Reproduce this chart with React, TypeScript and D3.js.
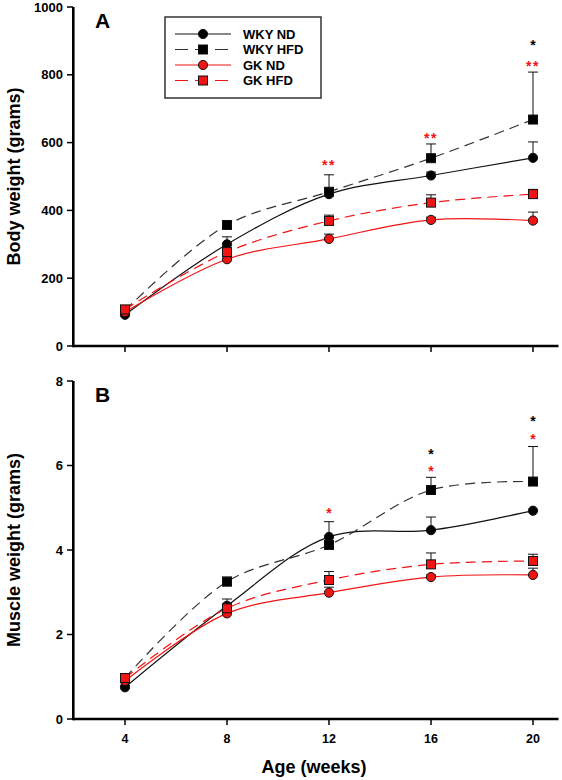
import React from "react";
import * as d3 from "d3";

// ---- Data ----
const weeks = [4, 8, 12, 16, 20];
const seriesNames = ["WKY ND", "WKY HFD", "GK ND", "GK HFD"];

// Panel A: Body weight (grams)
const bodyWkyNd = [92, 300, 448, 503, 555];
const bodyWkyHfd = [105, 357, 455, 554, 668];
const bodyGkNd = [100, 256, 316, 372, 370];
const bodyGkHfd = [108, 277, 369, 423, 448];
const bodyErrWkyNd = [5, 22, 10, 10, 47];
const bodyErrWkyHfd = [5, 12, 50, 42, 140];
const bodyErrGkNd = [4, 8, 14, 8, 25];
const bodyErrGkHfd = [5, 10, 17, 23, 14];
const bodyTicks = [0, 200, 400, 600, 800, 1000];
// significance marks: [week, value, text, color]
const bodyStars: [number, number, string, string][] = [
  [12, 543, "**", "red"],
  [16, 622, "**", "red"],
  [20, 896, "*", "black"],
  [20, 836, "**", "red"],
];

// Panel B: Muscle weight (grams)
const muscleWkyNd = [0.75, 2.68, 4.31, 4.47, 4.93];
const muscleWkyHfd = [0.97, 3.25, 4.12, 5.42, 5.62];
const muscleGkNd = [0.9, 2.5, 2.99, 3.36, 3.41];
const muscleGkHfd = [0.97, 2.62, 3.29, 3.66, 3.74];
const muscleErrWkyNd = [0.05, 0.16, 0.36, 0.31, 0];
const muscleErrWkyHfd = [0.05, 0.11, 0.1, 0.3, 0.83];
const muscleErrGkNd = [0.05, 0.05, 0.13, 0.05, 0.16];
const muscleErrGkHfd = [0.05, 0.06, 0.2, 0.27, 0.16];
const muscleTicks = [0, 2, 4, 6, 8];
const muscleStars: [number, number, string, string][] = [
  [12, 4.95, "*", "red"],
  [16, 6.35, "*", "black"],
  [16, 5.94, "*", "red"],
  [20, 7.13, "*", "black"],
  [20, 6.69, "*", "red"],
];

const FONT = "'Liberation Sans', Arial, Helvetica, sans-serif";
const RED = "#f01414";

const styles = [
  { color: "#111", dash: null as string | null, marker: "circle", fill: "#000" },
  { color: "#333", dash: "10,6", marker: "square", fill: "#000" },
  { color: RED, dash: null, marker: "circle", fill: RED },
  { color: RED, dash: "10,6", marker: "square", fill: RED },
];

const x = d3.scaleLinear().domain([2, 21]).range([74, 558.5]);

function Marker({ kind, cx, cy, fill }: { kind: string; cx: number; cy: number; fill: string }) {
  if (kind === "circle")
    return <circle cx={cx} cy={cy} r={4.6} fill={fill} stroke="#111" strokeWidth={1} />;
  return <rect x={cx - 4.5} y={cy - 4.5} width={9} height={9} fill={fill} stroke="#111" strokeWidth={1} />;
}

function Panel({
  label,
  yDomain,
  yRange,
  ticks,
  values,
  errs,
  stars,
  title,
  showXLabels,
}: {
  label: string;
  yDomain: [number, number];
  yRange: [number, number];
  ticks: number[];
  values: number[][];
  errs: number[][];
  stars: [number, number, string, string][];
  title: string;
  showXLabels: boolean;
}) {
  const y = d3.scaleLinear().domain(yDomain).range(yRange);
  const line = d3
    .line<number>()
    .x((_, i) => x(weeks[i]))
    .y((v) => y(v))
    .curve(d3.curveCatmullRom.alpha(0.5));
  const x0 = x.range()[0] - 1;
  const x1 = x.range()[1];
  const yb = yRange[0];
  const yt = yRange[1];
  const mid = (yb + yt) / 2;
  return (
    <g>
      {/* curves */}
      {values.map((vals, s) => (
        <path
          key={"l" + s}
          d={line(vals) || ""}
          fill="none"
          stroke={styles[s].color}
          strokeWidth={1.2}
          strokeDasharray={styles[s].dash || undefined}
        />
      ))}
      {/* error bars */}
      {values.map((vals, s) =>
        vals.map((v, i) => {
          const e = errs[s][i];
          if (!e) return null;
          const cx = x(weeks[i]);
          return (
            <g key={"e" + s + "-" + i} stroke="#111" strokeWidth={1}>
              <line x1={cx} x2={cx} y1={y(v)} y2={y(v + e)} />
              <line x1={cx - 5} x2={cx + 5} y1={y(v + e)} y2={y(v + e)} />
            </g>
          );
        })
      )}
      {/* markers */}
      {values.map((vals, s) =>
        vals.map((v, i) => (
          <Marker key={"m" + s + "-" + i} kind={styles[s].marker} cx={x(weeks[i])} cy={y(v)} fill={styles[s].fill} />
        ))
      )}
      {/* significance stars */}
      {stars.map(([w, v, t, c], i) => (
        <text
          key={"s" + i}
          x={x(w)}
          y={y(v) + 8}
          textAnchor="middle"
          fontFamily={FONT}
          fontWeight="bold"
          fontSize={14}
          fill={c === "red" ? RED : "#000"}
          letterSpacing={t.length > 1 ? 1.5 : 0}
        >
          {t}
        </text>
      ))}
      {/* axes */}
      <line x1={x0} x2={x1} y1={yb} y2={yb} stroke="#000" strokeWidth={2.6} />
      <line x1={x0 + 0.3} x2={x0 + 0.3} y1={yt} y2={yb + 1.3} stroke="#000" strokeWidth={2.6} />
      {ticks.map((t) => (
        <g key={"yt" + t}>
          <line x1={x0 - 6} x2={x0} y1={y(t)} y2={y(t)} stroke="#000" strokeWidth={1.5} />
          <text
            x={x0 - 10}
            y={y(t)}
            dy="0.36em"
            textAnchor="end"
            fontFamily={FONT}
            fontWeight="bold"
            fontSize={13}
            fill="#000"
          >
            {t}
          </text>
        </g>
      ))}
      {weeks.map((w) => (
        <g key={"xt" + w}>
          <line x1={x(w)} x2={x(w)} y1={yb} y2={yb + 6} stroke="#000" strokeWidth={1.5} />
          {showXLabels && (
            <text
              x={x(w)}
              y={yb + 24}
              textAnchor="middle"
              fontFamily={FONT}
              fontWeight="bold"
              fontSize={12.5}
              fill="#000"
            >
              {w}
            </text>
          )}
        </g>
      ))}
      <text
        transform={`translate(14,${mid}) rotate(-90)`}
        textAnchor="middle"
        dominantBaseline="central"
        fontFamily={FONT}
        fontWeight="bold"
        fontSize={18}
        fill="#000"
      >
        {title}
      </text>
      <text x={95} y={yt + 21} fontFamily={FONT} fontWeight="bold" fontSize={21} fill="#000">
        {label}
      </text>
    </g>
  );
}

function Legend() {
  const rows = [34, 49.5, 65, 80.5];
  return (
    <g>
      <rect x={165} y={17} width={156} height={81} fill="#fff" stroke="#333" strokeWidth={1.5} />
      {seriesNames.map((n, i) => (
        <g key={n}>
          <line
            x1={175}
            x2={231}
            y1={rows[i]}
            y2={rows[i]}
            stroke={styles[i].color}
            strokeWidth={1.2}
            strokeDasharray={styles[i].dash ? "13,7" : undefined}
          />
          <Marker kind={styles[i].marker} cx={203} cy={rows[i]} fill={styles[i].fill} />
          <text
            x={243}
            y={rows[i]}
            dy="0.36em"
            fontFamily={FONT}
            fontWeight="bold"
            fontSize={13}
            fill="#000"
          >
            {n}
          </text>
        </g>
      ))}
    </g>
  );
}

export default function App() {
  return (
    <svg
      width={562}
      height={780}
      style={{ position: "absolute", left: 0, top: 0, background: "#fff" }}
      xmlns="http://www.w3.org/2000/svg"
    >
      <rect width={562} height={780} fill="#fff" />
      <Panel
        label="A"
        yDomain={[0, 1000]}
        yRange={[346, 7]}
        ticks={bodyTicks}
        values={[bodyWkyNd, bodyWkyHfd, bodyGkNd, bodyGkHfd]}
        errs={[bodyErrWkyNd, bodyErrWkyHfd, bodyErrGkNd, bodyErrGkHfd]}
        stars={bodyStars}
        title="Body weight (grams)"
        showXLabels={false}
      />
      <Legend />
      <Panel
        label="B"
        yDomain={[0, 8]}
        yRange={[719, 381]}
        ticks={muscleTicks}
        values={[muscleWkyNd, muscleWkyHfd, muscleGkNd, muscleGkHfd]}
        errs={[muscleErrWkyNd, muscleErrWkyHfd, muscleErrGkNd, muscleErrGkHfd]}
        stars={muscleStars}
        title="Muscle weight (grams)"
        showXLabels={true}
      />
      <text x={314} y={773} textAnchor="middle" fontFamily={FONT} fontWeight="bold" fontSize={18} fill="#000">
        Age (weeks)
      </text>
    </svg>
  );
}
